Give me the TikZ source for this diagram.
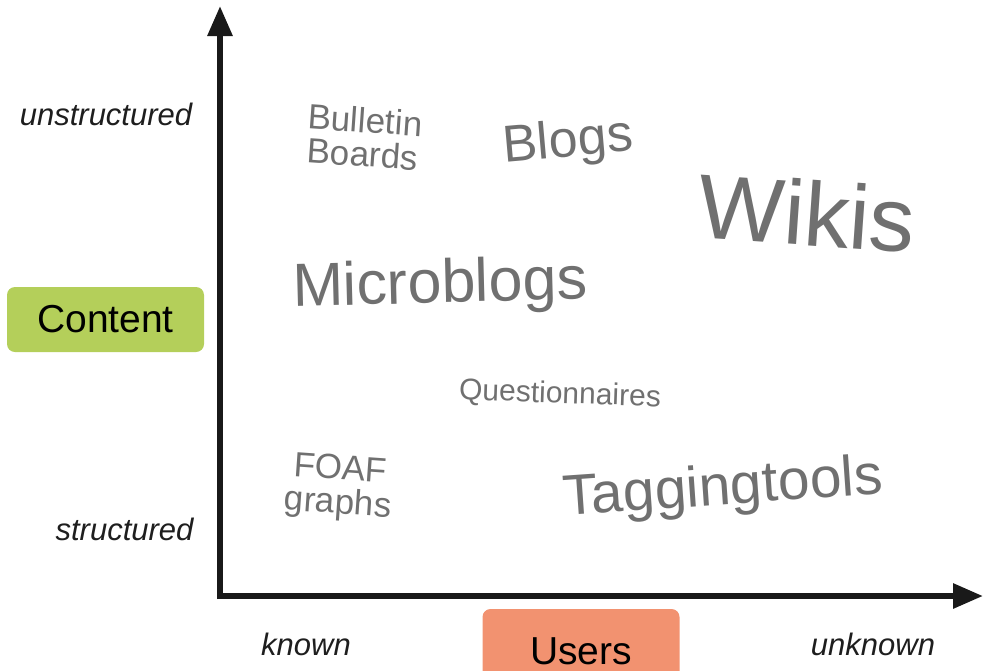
\documentclass[tikz,border=0pt]{standalone}
\usepackage{fontspec}
\setmainfont{Liberation Sans}
\usetikzlibrary{arrows.meta}
\definecolor{wordgray}{RGB}{112,112,112}
\definecolor{contentgreen}{RGB}{180,207,90}
\definecolor{userssalmon}{RGB}{242,146,112}
\definecolor{labelink}{RGB}{30,30,30}
\newcommand\wsize[2]{\fontsize{#1}{#2}\selectfont}
\begin{document}
\begin{tikzpicture}[x=1pt,y=-1pt,
  word/.style={text=wordgray, inner sep=0pt, align=center},
  polelabel/.style={text=labelink, inner sep=0pt, anchor=base, font=\itshape\wsize{31}{36}},
  tagbox/.style={rounded corners=8pt, inner sep=0pt, minimum width=197pt},
  tagtext/.style={inner sep=0pt, font=\wsize{39}{44}, text=black},
  axis/.style={line width=6pt, line join=miter, draw=black!90,
               -{Triangle[length=30pt,width=24pt]}}]
\useasboundingbox (0,0) rectangle (984,670);

% axes
\coordinate (origin) at (220,596);
\coordinate (ytip) at (220,6);
\coordinate (xtip) at (983,596);
\draw[axis] ([yshift=-3pt]origin) -- (ytip);
\draw[axis] ([xshift=-3pt]origin) -- (xtip);

% axis names (the Users box runs on past the lower edge of the page)
\node[tagbox, fill=contentgreen, minimum height=65pt] (content) at (105.5,319.5) {};
\node[tagtext] (contentlabel) at (content.center) {Content};
\node[tagbox, fill=userssalmon, minimum height=72pt] (users) at (581,645) {};
\node[tagtext, anchor=base] (userslabel) at (581,664) {Users};

% pole labels
\node[polelabel] (unstructured) at (106,125) {unstructured};
\node[polelabel] (structured) at (124.5,540) {structured};
\node[polelabel] (known) at (306,655) {known};
\node[polelabel] (unknown) at (873,655) {unknown};

% tools
\node[word, font=\wsize{35}{34}, rotate=-4] (bulletin) at (364,137) {Bulletin\\Boards};
\node[word, font=\wsize{52}{52}, rotate=5] (blogs) at (568,143) {Blogs};
\node[word, font=\wsize{91}{91}, rotate=-4] (wikis) at (807,213) {Wikis};
\node[word, font=\wsize{61}{61}, rotate=1.5] (microblogs) at (440,287) {Microblogs};
\node[word, font=\wsize{30}{30}, rotate=-2] (questionnaires) at (560,395) {Questionnaires};
\node[word, font=\wsize{35}{34}, rotate=-4] (foaf) at (339,488) {FOAF\\graphs};
\node[word, font=\wsize{57}{57}, rotate=4] (tagging) at (723,490) {Taggingtools};
\end{tikzpicture}
\end{document}
